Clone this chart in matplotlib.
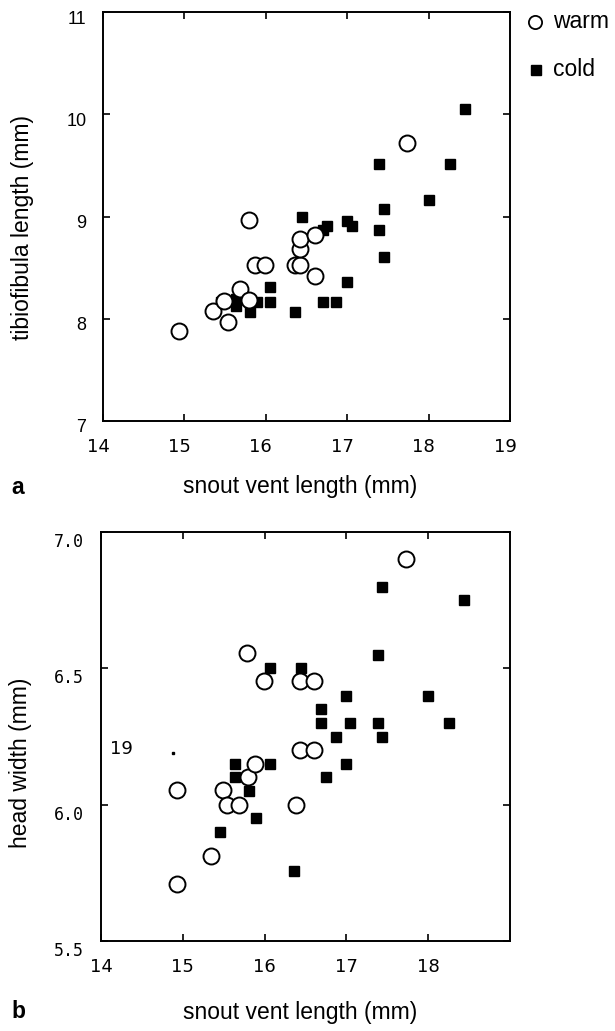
import matplotlib
matplotlib.use("Agg")
import matplotlib.pyplot as plt
from matplotlib.transforms import ScaledTranslation

W, H = 615, 1031

# panel a: snout vent length vs tibiofibula length
a_warm_x = [14.93, 15.35, 15.53, 15.49, 15.68, 15.79, 15.79, 15.87, 15.99, 16.36, 16.42, 16.42, 16.42, 16.60, 16.60, 17.74]
a_warm_y = [7.88, 8.08, 7.97, 8.17, 8.29, 8.18, 8.97, 8.53, 8.53, 8.53, 8.53, 8.68, 8.78, 8.82, 8.42, 9.72]
a_cold_x = [15.45, 15.64, 15.64, 15.81, 15.89, 16.05, 16.05, 16.36, 16.44, 16.70, 16.75, 16.70, 16.86, 17.00,
            17.00, 17.06, 17.39, 17.39, 17.45, 17.45, 18.00, 18.26, 18.45]
a_cold_y = [8.16, 8.19, 8.12, 8.07, 8.16, 8.31, 8.16, 8.07, 9.00, 8.87, 8.91, 8.16, 8.16, 8.36,
            8.96, 8.91, 9.51, 8.87, 9.07, 8.60, 9.16, 9.51, 10.05]

# panel b: snout vent length vs head width
b_warm_x = [14.93, 14.93, 15.35, 15.49, 15.54, 15.69, 15.80, 15.88, 15.79, 15.99, 16.43, 16.60, 16.43, 16.60, 16.38, 17.73]
b_warm_y = [6.055, 5.71, 5.81, 6.055, 6.00, 6.00, 6.10, 6.15, 6.555, 6.455, 6.455, 6.455, 6.20, 6.20, 6.00, 6.90]
b_cold_x = [15.45, 15.64, 15.64, 15.81, 15.89, 16.06, 16.06, 16.36, 16.45, 16.69, 16.69, 16.75, 16.87, 17.00,
            17.05, 17.00, 17.39, 17.39, 17.44, 17.44, 18.00, 18.25, 18.44]
b_cold_y = [5.90, 6.15, 6.10, 6.05, 5.95, 6.50, 6.15, 5.755, 6.50, 6.35, 6.30, 6.10, 6.25, 6.40,
            6.30, 6.15, 6.55, 6.30, 6.25, 6.80, 6.40, 6.30, 6.75]

a_yticks = [7, 8, 9, 10, 11]
b_yticks = [5.5, 6.0, 6.5, 7.0]
xticks = [14, 15, 16, 17, 18, 19]

LAB = "Liberation Sans"
fig = plt.figure(figsize=(W / 100, H / 100), dpi=100)


def box(l, t, r, b):
    return [l / W, 1 - b / H, (r - l) / W, (b - t) / H]


def style(ax):
    for s in ax.spines.values():
        s.set_linewidth(1.4)
    ax.tick_params(direction="in", length=5, width=1.2, top=True, right=True, pad=12)


def pts(ax, wx, wy, cx, cy):
    ax.plot(wx, wy, "o", ms=11.5, mfc="white", mec="black", mew=1.4, ls="none", zorder=3)
    ax.plot(cx, cy, "s", ms=7, mfc="black", mec="black", ls="none", zorder=2)


# --- panel a
ax1 = fig.add_axes(box(103, 12, 510, 421))
pts(ax1, a_warm_x, a_warm_y, a_cold_x, a_cold_y)
ax1.set_xlim(14, 19); ax1.set_ylim(7, 11)
ax1.set_xticks(xticks); ax1.set_yticks(a_yticks)
style(ax1)
ax1.set_xticklabels([str(v) for v in xticks], fontsize=13, family="DejaVu Sans")
ax1.set_yticklabels([str(v) for v in a_yticks], fontsize=13, family=LAB)
for t in ax1.get_xticklabels():
    t.set_transform(t.get_transform() + ScaledTranslation(-5 / 100, 0, fig.dpi_scale_trans))
for t in ax1.get_yticklabels():
    t.set_transform(t.get_transform() + ScaledTranslation(0, -5 / 100, fig.dpi_scale_trans))

# --- panel b
ax2 = fig.add_axes(box(101, 532, 510, 941))
pts(ax2, b_warm_x, b_warm_y, b_cold_x, b_cold_y)
ax2.plot([14.88], [6.19], "s", ms=1.8, color="black")
ax2.text(14.25, 6.205, "19", fontsize=13, family="DejaVu Sans", ha="center", va="center")
ax2.set_xlim(14, 19); ax2.set_ylim(5.5, 7.0)
ax2.set_xticks(xticks[:-1]); ax2.set_yticks(b_yticks)
style(ax2)
ax2.set_xticklabels([str(v) for v in xticks[:-1]], fontsize=13, family="DejaVu Sans")
ax2.set_yticklabels(["%.1f" % v for v in b_yticks], fontsize=12, family="DejaVu Sans Mono")
for t in ax2.get_yticklabels():
    t.set_transform(t.get_transform() + ScaledTranslation(0, -8 / 100, fig.dpi_scale_trans))

# --- labels
def ftext(x, y, s, **kw):
    fig.text(x / W, 1 - y / H, s, family=LAB, fontsize=16.5, **kw)

ftext(300, 487, "snout vent length (mm)", ha="center", va="center")
ftext(300, 1012, "snout vent length (mm)", ha="center", va="center")
ftext(23, 227, "tibiofibula length (mm)", ha="center", va="center", rotation=90)
ftext(20, 763, "head width (mm)", ha="center", va="center", rotation=90)
ftext(18, 487, "a", ha="center", va="center", weight="bold")
ftext(18, 1012, "b", ha="center", va="center", weight="bold")

# --- legend
fig.lines.append(plt.Line2D([535 / W], [1 - 22 / H], marker="o", ms=9.5, mfc="white", mec="black",
                            mew=1.3, transform=fig.transFigure))
fig.lines.append(plt.Line2D([536 / W], [1 - 70 / H], marker="s", ms=6.5, mfc="black", mec="black",
                            transform=fig.transFigure))
ftext(553, 22, "warm", ha="left", va="center")
ftext(553, 70, "cold", ha="left", va="center")

fig.savefig("out.png", dpi=100)
